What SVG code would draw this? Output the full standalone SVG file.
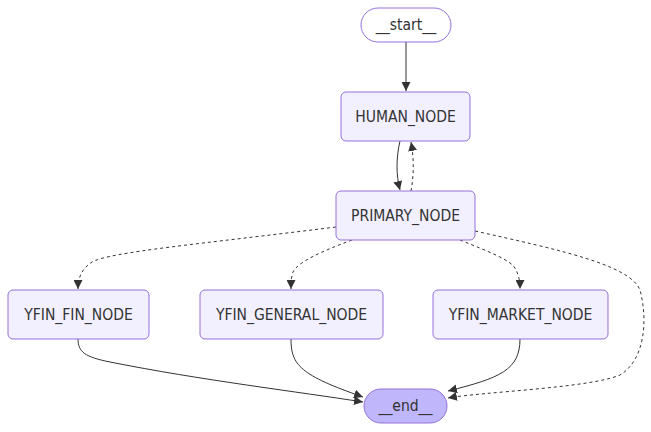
<svg xmlns="http://www.w3.org/2000/svg" width="651" height="432" viewBox="0 0 651 432">
<style>
.node rect{fill:#f2f0ff;stroke:#9370DB;stroke-width:1}
.node text{font-family:"DejaVu Sans Condensed","DejaVu Sans",sans-serif;font-stretch:condensed;font-size:15.5px;fill:#333;text-anchor:middle;dominant-baseline:central}
.e{fill:none;stroke:#333;stroke-width:1}
.d{stroke-dasharray:3 3}
</style>
<defs>
<marker id="arr" viewBox="0 0 10 10" refX="10" refY="5" markerWidth="9" markerHeight="9" markerUnits="userSpaceOnUse" orient="auto">
<path d="M0,0 L10,5 L0,10 z" fill="#333"/>
</marker>
</defs>
<rect width="651" height="432" fill="#fff"/>
<g id="connectors">
<path class="e" marker-end="url(#arr)" d="M406,42 L406,91"/>
<path class="e" marker-end="url(#arr)" d="M400,141 C396,158 396,175 400,190"/>
<path class="e d" marker-end="url(#arr)" d="M411,191 C414,175 414,158 411,142"/>
<path class="e d" marker-end="url(#arr)" d="M336,227 C200,244 110,252 92,262 C80,270 78,280 78,289"/>
<path class="e d" marker-end="url(#arr)" d="M352,240 C320,252 298,262 293,272 C291,278 291,283 291,289"/>
<path class="e d" marker-end="url(#arr)" d="M460,240 C490,252 510,260 515,268 C519,275 520,282 520,289"/>
<path class="e d" marker-end="url(#arr)" d="M475,231 C560,250 630,265 640,290 C648,320 645,360 620,375 C590,388 480,392 448,398"/>
<path class="e" marker-end="url(#arr)" d="M78,339 C78,352 85,357 110,362 C200,380 300,392 363,402"/>
<path class="e" marker-end="url(#arr)" d="M291,339 C291,365 300,375 363,397"/>
<path class="e" marker-end="url(#arr)" d="M520,339 C520,370 500,378 448,391"/>
</g>
<g id="start" class="node"><rect x="361" y="8" width="90" height="34" rx="17" style="fill:#fff"/><text x="406" y="25">__start__</text></g>
<g id="human" class="node"><rect x="341" y="92" width="129" height="49" rx="5"/><text x="405.5" y="116.5">HUMAN_NODE</text></g>
<g id="primary" class="node"><rect x="336" y="191" width="139" height="49" rx="5"/><text x="405.5" y="215.5">PRIMARY_NODE</text></g>
<g id="yfin_fin" class="node"><rect x="8" y="290" width="141" height="49" rx="5"/><text x="78.5" y="314.5">YFIN_FIN_NODE</text></g>
<g id="yfin_general" class="node"><rect x="200" y="290" width="183" height="49" rx="5"/><text x="291.5" y="314.5">YFIN_GENERAL_NODE</text></g>
<g id="yfin_market" class="node"><rect x="433" y="290" width="175" height="49" rx="5"/><text x="520.5" y="314.5">YFIN_MARKET_NODE</text></g>
<g id="end" class="node"><rect x="364" y="389" width="83" height="34" rx="17" style="fill:#bfb6fc"/><text x="405.5" y="406">__end__</text></g>
</svg>
